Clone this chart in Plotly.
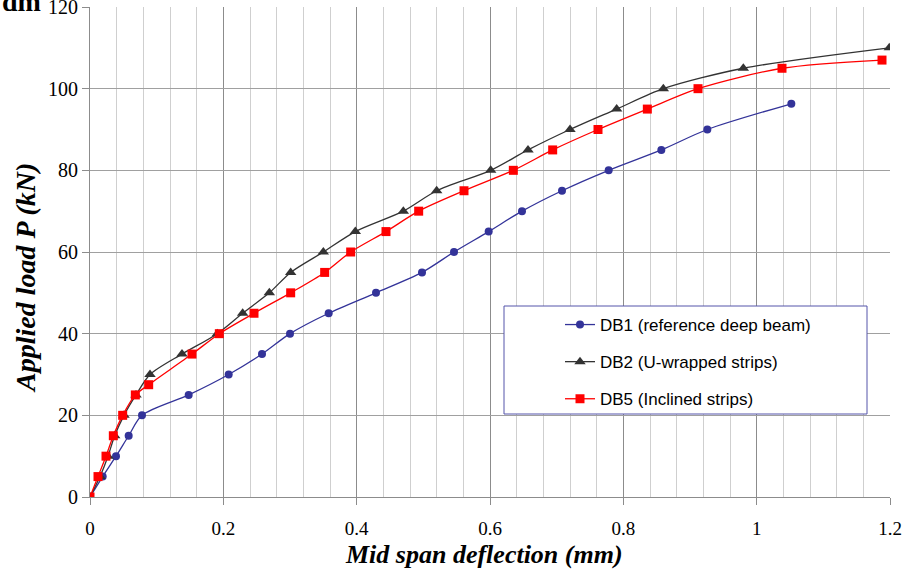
import plotly.graph_objects as go

# DB1 (reference deep beam)
db1_x = [0, 0.019, 0.039, 0.058, 0.078, 0.148, 0.208, 0.258, 0.300, 0.358, 0.429,
         0.498, 0.546, 0.598, 0.648, 0.708, 0.778, 0.857, 0.926, 1.052]
db1_y = [0, 5, 10, 15, 20, 25, 30, 35, 40, 45, 50, 55, 60, 65, 70, 75, 80, 85, 90, 96.3]

# DB2 (U-wrapped strips)
db2_x = [0, 0.015, 0.027, 0.037, 0.051, 0.069, 0.090, 0.138, 0.191, 0.229, 0.269,
         0.301, 0.350, 0.398, 0.470, 0.520, 0.601, 0.657, 0.720, 0.790, 0.860, 0.980, 1.199]
db2_y = [0, 5, 10, 15, 20, 25, 30, 35, 40, 45, 50, 55, 60, 65, 70, 75, 80, 85, 90, 95,
         100, 105, 110]

# DB5 (Inclined strips)
db5_x = [0, 0.012, 0.024, 0.035, 0.049, 0.068, 0.088, 0.153, 0.194, 0.246, 0.301,
         0.352, 0.391, 0.444, 0.493, 0.561, 0.635, 0.694, 0.762, 0.836, 0.912, 1.038, 1.188]
db5_y = [0, 5, 10, 15, 20, 25, 27.5, 35, 40, 45, 50, 55, 60, 65, 70, 75, 80, 85, 90, 95,
         100, 105, 107]

names = ["DB1 (reference deep beam)", "DB2 (U-wrapped strips)", "DB5 (Inclined strips)"]
x_title = "Mid span deflection (mm)"
y_title = "Applied load P (kN)"

fig = go.Figure()
fig.add_trace(go.Scatter(x=db1_x, y=db1_y, name=names[0], mode="lines+markers",
                         line=dict(color="#333399", width=1.3, shape="spline", smoothing=0.8),
                         marker=dict(symbol="circle", size=8, color="#333399"),
                         legendgroup="a"))
fig.add_trace(go.Scatter(x=db2_x, y=db2_y, name=names[1], mode="lines+markers",
                         line=dict(color="#333333", width=1.3, shape="spline", smoothing=0.8),
                         marker=dict(symbol="triangle-up", size=10, color="#333333"),
                         legendgroup="b"))
fig.add_trace(go.Scatter(x=db5_x, y=db5_y, name=names[2], mode="lines+markers",
                         line=dict(color="#FF0000", width=1.3, shape="spline", smoothing=0.8),
                         marker=dict(symbol="square", size=9, color="#FF0000"),
                         legendgroup="c"))

serif = "Liberation Serif, Times New Roman, serif"
PL, PT, PW, PH = 90, 7, 800, 490  # plot area in pixels


def px(x):
    return (x - PL) / PW


def py(y):
    return (PT + PH - y) / PH


fig.update_layout(
    width=906, height=571,
    margin=dict(l=PL, r=906 - PL - PW, t=PT, b=571 - PT - PH, autoexpand=False),
    paper_bgcolor="white", plot_bgcolor="white",
    showlegend=True,
    legend=dict(x=px(560), y=py(307), xanchor="left", yanchor="top",
                bgcolor="rgba(0,0,0,0)", borderwidth=0,
                font=dict(family="Liberation Sans, Arial, sans-serif", size=17, color="black"),
                tracegroupgap=12, itemwidth=30),
    shapes=[dict(type="rect", xref="paper", yref="paper",
                 x0=px(504), x1=px(867), y0=py(414), y1=py(306),
                 line=dict(color="#5555aa", width=1), fillcolor="white", layer="above")],
    annotations=[
        dict(text="<b>dm</b>", xref="paper", yref="paper",
             x=px(0), y=py(19), xanchor="left", yanchor="bottom",
             showarrow=False, font=dict(family=serif, size=28, color="black")),
        dict(text="<b><i>" + x_title + "</i></b>", xref="paper", yref="paper",
             x=px(484), y=py(554), xanchor="center", yanchor="middle",
             showarrow=False, font=dict(family=serif, size=26, color="black")),
        dict(text="<b><i>" + y_title + "</i></b>", xref="paper", yref="paper",
             x=px(25), y=py(278), xanchor="center", yanchor="middle", textangle=-90,
             showarrow=False, font=dict(family=serif, size=28, color="black")),
    ],
)

fig.update_xaxes(range=[0, 1.2], dtick=0.2, tick0=0, automargin=False,
                 showgrid=True, gridcolor="#8c8c8c", gridwidth=1.2,
                 minor=dict(dtick=0.04, showgrid=True, gridcolor="#cfcfcf", gridwidth=1),
                 zeroline=False, showline=True, linecolor="#8c8c8c", linewidth=1.2,
                 ticks="outside", ticklen=7, tickcolor="#8c8c8c", ticklabelstandoff=7,
                 ticklabeloverflow="allow",
                 tickfont=dict(family=serif, size=19, color="black"))
fig.update_yaxes(range=[0, 120], dtick=20, tick0=0, automargin=False,
                 showgrid=True, gridcolor="#a0a0a0", gridwidth=1.2,
                 zeroline=False, showline=True, linecolor="#8c8c8c", linewidth=1.2,
                 ticks="outside", ticklen=7, tickcolor="#8c8c8c",
                 ticklabeloverflow="allow",
                 tickfont=dict(family=serif, size=20, color="black"))

fig.write_html("out.html", post_script="document.body.style.margin='0';",
               config={"displayModeBar": False})
